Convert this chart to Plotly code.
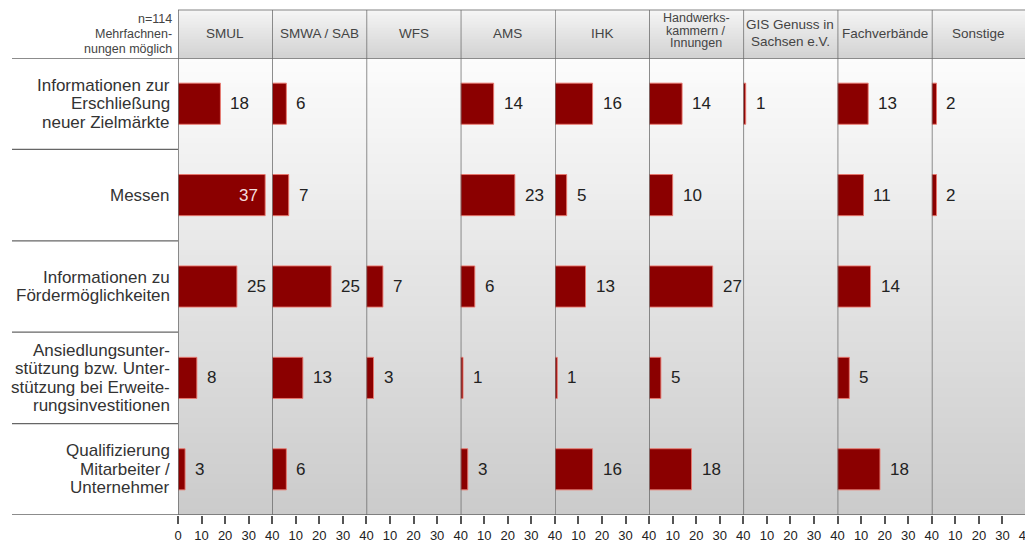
import plotly.graph_objects as go
from plotly.subplots import make_subplots

categories = [
    "Informationen zur<br>Erschließung<br>neuer Zielmärkte",
    "Messen",
    "Informationen zu<br>Fördermöglichkeiten",
    "Ansiedlungsunter-<br>stützung bzw. Unter-<br>stützung bei Erweite-<br>rungsinvestitionen",
    "Qualifizierung<br>Mitarbeiter /<br>Unternehmer",
]
orgs = [
    "SMUL", "SMWA / SAB", "WFS", "AMS", "IHK",
    "Handwerks-<br>kammern /<br>Innungen", "GIS Genuss in<br>Sachsen e.V.",
    "Fachverbände", "Sonstige",
]
smul = [18, 37, 25, 8, 3]
smwa = [6, 7, 25, 13, 6]
wfs = [None, None, 7, 3, None]
ams = [14, 23, 6, 1, 3]
ihk = [16, 5, 13, 1, 16]
hwk = [14, 10, 27, 5, 18]
gis = [1, None, None, None, None]
fach = [13, 11, 14, 5, 18]
sonst = [2, 2, None, None, None]
series = [smul, smwa, wfs, ams, ihk, hwk, gis, fach, sonst]
note = "n=114<br>Mehrfachnen-<br>nungen möglich"
x_max = 40

# page body has an 8px margin, so the figure is sized / offset accordingly
W, H = 1025, 535
L, R, T, B = 170, 7, 50, 28
plot_h = H - T - B
plot_w = W - L - R
hdr_top = 1 + (T - 2) / plot_h
left_ext = (4 - L) / plot_w

fig = make_subplots(rows=1, cols=9, shared_yaxes=True, horizontal_spacing=0)

FONT = "Liberation Sans, Arial, sans-serif"
BAR = "#8b0000"
annotations = []


def multiline(text, x, y, xref, yref, size, spacing, xanchor, xshift=0, color="#333"):
    lines = text.split("<br>")
    n = len(lines)
    for j, ln in enumerate(lines):
        annotations.append(dict(x=x, y=y, xref=xref, yref=yref, text=ln, showarrow=False,
                                xanchor=xanchor, yanchor="middle", xshift=xshift,
                                yshift=((n - 1) / 2 - j) * spacing,
                                font=dict(family=FONT, size=size, color=color)))


hdr_style = {
    "Handwerks-<br>kammern /<br>Innungen": (12.5, 12.5, 3),
    "GIS Genuss in<br>Sachsen e.V.": (13.5, 16.5, 1),
}

for i, vals in enumerate(series):
    col = i + 1
    cats = [c for c, v in zip(categories, vals) if v is not None]
    xs = [v for v in vals if v is not None]
    fig.add_trace(
        go.Bar(
            x=xs, y=cats, orientation="h", width=0.45,
            marker=dict(color=BAR, line=dict(color="rgba(235,120,110,0.9)", width=1)),
            showlegend=False, hoverinfo="x+y",
        ),
        row=1, col=col,
    )
    xref = "x" if col == 1 else f"x{col}"
    for cat, v in zip(cats, xs):
        if v > 0.85 * x_max:
            annotations.append(dict(x=v, y=cat, xref=xref, yref="y", text=str(v),
                                    showarrow=False, xanchor="right", xshift=-5,
                                    font=dict(family=FONT, size=17, color="#f3dede")))
        else:
            annotations.append(dict(x=v, y=cat, xref=xref, yref="y", text=str(v),
                                    showarrow=False, xanchor="left", xshift=8,
                                    font=dict(family=FONT, size=17, color="#222")))
    tv = [0, 10, 20, 30, 40] if col == 1 else [10, 20, 30, 40]
    fig.update_xaxes(range=[0, x_max], tickvals=tv, ticktext=[str(t) for t in tv],
                     ticks="outside", ticklen=8, tickwidth=1.5, tickcolor="#555",
                     showgrid=False, zeroline=False, showline=False, automargin=False,
                     ticklabeloverflow="allow",
                     tickfont=dict(family=FONT, size=13, color="#222"),
                     fixedrange=True, row=1, col=col)
    size, spacing, yoff = hdr_style.get(orgs[i], (13.5, 14, 0))
    lines = orgs[i].split("<br>")
    n = len(lines)
    for j, ln in enumerate(lines):
        annotations.append(dict(x=0.5, y=(1 + hdr_top) / 2, xref=f"{xref} domain", yref="paper",
                                text=ln, showarrow=False, xanchor="center", yanchor="middle",
                                yshift=((n - 1) / 2 - j) * spacing + yoff,
                                font=dict(family=FONT, size=size, color="#444")))

fig.update_yaxes(type="category", categoryorder="array", categoryarray=categories,
                 range=[len(categories) - 0.5, -0.5], showticklabels=False, automargin=False,
                 showgrid=False, zeroline=False, showline=False, ticks="", fixedrange=True)

# row labels
for cat in categories:
    multiline(cat, 0, cat, "paper", "y", 17, 18.5, "right", xshift=-6, color="#333")
multiline(note, 0, (1 + hdr_top) / 2, "paper", "paper", 12.5, 15, "right", xshift=-4, color="#444")

shapes = []


def mix(c0, c1, t):
    return "rgb({},{},{})".format(*[round(a + (b - a) * t) for a, b in zip(c0, c1)])


N = 90
top_c, bot_c = (252, 252, 252), (203, 203, 203)
for k in range(N):
    y0 = 1 - (k + 1) / N
    y1 = 1 - k / N
    shapes.append(dict(type="rect", xref="paper", yref="paper", x0=0, x1=1, y0=y0, y1=y1 + 0.002,
                       fillcolor=mix(top_c, bot_c, (k + 0.5) / N), line=dict(width=0), layer="below"))
NH = 16
h_top, h_bot = (246, 246, 246), (210, 210, 210)
for k in range(NH):
    y1 = hdr_top - k * (hdr_top - 1) / NH
    y0 = hdr_top - (k + 1) * (hdr_top - 1) / NH
    shapes.append(dict(type="rect", xref="paper", yref="paper", x0=0, x1=1, y0=y0, y1=y1 + 0.001,
                       fillcolor=mix(h_top, h_bot, (k + 0.5) / NH), line=dict(width=0), layer="below"))

# header top border
shapes.append(dict(type="line", xref="paper", yref="paper", x0=0, x1=1, y0=hdr_top, y1=hdr_top,
                   line=dict(color="#888", width=1.2)))
# horizontal row separators on the left + header bottom + bottom axis line
for b in [k - 0.5 for k in range(len(categories) + 1)]:
    full = b in (-0.5, len(categories) - 0.5)
    shapes.append(dict(type="line", xref="paper", yref="y", x0=left_ext, x1=1 if full else 0,
                       y0=b, y1=b, line=dict(color="#666", width=1.3)))
# vertical panel separators
for col in range(1, 10):
    xref = "x" if col == 1 else f"x{col}"
    shapes.append(dict(type="line", xref=xref, yref="paper", x0=0, x1=0, y0=0, y1=hdr_top,
                       line=dict(color="#6a6a6a", width=1.5)))
shapes.append(dict(type="line", xref="x9", yref="paper", x0=x_max, x1=x_max, y0=0, y1=1,
                   line=dict(color="#aaa", width=1.2)))
shapes.append(dict(type="line", xref="x9", yref="paper", x0=x_max, x1=x_max, y0=1, y1=hdr_top,
                   line=dict(color="#888", width=1.2)))

fig.update_layout(
    width=W, height=H,
    margin=dict(l=L, r=R, t=T, b=B, autoexpand=False),
    paper_bgcolor="white", plot_bgcolor="rgba(0,0,0,0)",
    annotations=annotations, shapes=shapes,
    font=dict(family=FONT),
    showlegend=False,
)

fig.write_html("out.html")
